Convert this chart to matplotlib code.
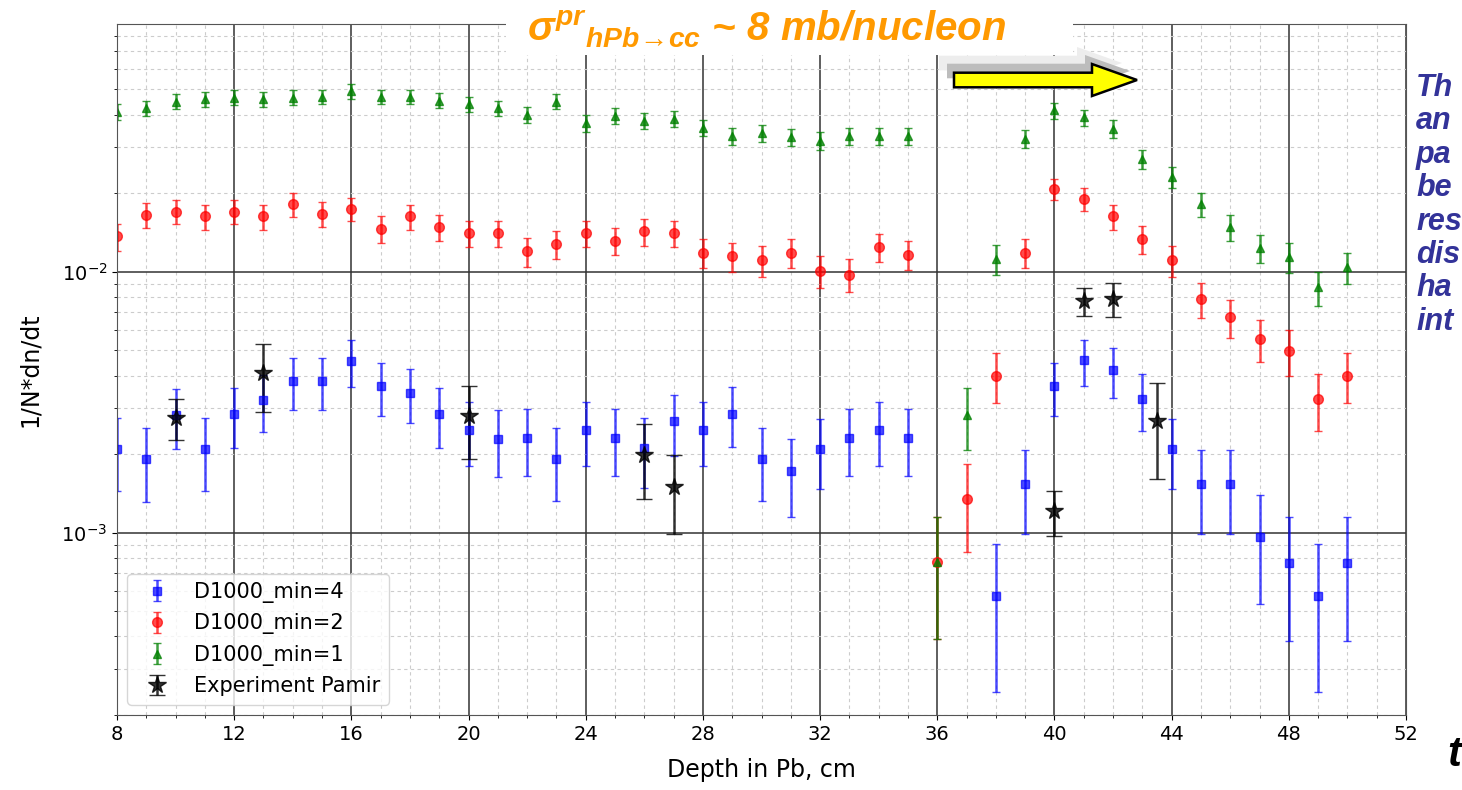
import matplotlib
matplotlib.use('Agg')
import matplotlib.pyplot as plt
import matplotlib.ticker as ticker
from matplotlib.patches import Rectangle, Polygon

plt.rcParams['mathtext.fontset'] = 'custom'
plt.rcParams['mathtext.it'] = 'Liberation Sans:italic:bold'
plt.rcParams['mathtext.rm'] = 'Liberation Sans:italic:bold'
plt.rcParams['mathtext.bf'] = 'Liberation Sans:italic:bold'

# D1000_min=4 (blue squares)
x_min4 = [8, 9, 10, 11, 12, 13, 14, 15, 16, 17, 18, 19, 20, 21, 22, 23, 24, 25,
          26, 27, 28, 29, 30, 31, 32, 33, 34, 35,
          38, 39, 40, 41, 42, 43, 44, 45, 46, 47, 48, 49, 50]
y_min4 = [0.0021, 0.00191, 0.00283, 0.0021, 0.00285, 0.00323, 0.0038, 0.0038,
          0.00456, 0.00364, 0.00343, 0.00285, 0.00248, 0.00229, 0.00231, 0.00192,
          0.00248, 0.00231, 0.00211, 0.00267, 0.00248, 0.00286, 0.00192, 0.00172,
          0.0021, 0.00231, 0.00248, 0.00231,
          0.000574, 0.00153, 0.00364, 0.00457, 0.00419, 0.00325, 0.0021, 0.00153,
          0.00153, 0.000962, 0.000765, 0.000574, 0.000765]
e_min4 = [0.00065, 0.0006, 0.00073, 0.00065, 0.00074, 0.00079, 0.00085, 0.00085,
          0.00093, 0.00083, 0.00081, 0.00074, 0.00068, 0.00066, 0.00066, 0.0006,
          0.00068, 0.00066, 0.00063, 0.00071, 0.00068, 0.00074, 0.0006, 0.00057,
          0.00063, 0.00066, 0.00068, 0.00066,
          0.00033, 0.00054, 0.00083, 0.00092, 0.0009, 0.00079, 0.00063, 0.00054,
          0.00054, 0.00043, 0.00038, 0.00033, 0.00038]

# D1000_min=2 (red circles)
x_min2 = list(range(8, 51))
y_min2 = [0.01365, 0.01653, 0.0170, 0.01629, 0.0170, 0.01629, 0.01817, 0.01668,
          0.01743, 0.01462, 0.01629, 0.01478, 0.01407, 0.01407, 0.01196, 0.01277,
          0.01407, 0.01315, 0.01427, 0.01407, 0.0118, 0.01144, 0.01105, 0.0118,
          0.01009, 0.00974, 0.0124, 0.01162, 0.00077, 0.00134, 0.0040, 0.0118,
          0.02075, 0.0190, 0.01629, 0.01334, 0.01105, 0.00786, 0.00668, 0.00552,
          0.00498, 0.00325, 0.0040]
e_min2 = [0.0016, 0.0018, 0.0018, 0.0018, 0.0018, 0.0018, 0.0019, 0.0018,
          0.0018, 0.0017, 0.0018, 0.0017, 0.0016, 0.0016, 0.0015, 0.0016,
          0.0016, 0.0016, 0.0017, 0.0016, 0.0015, 0.0015, 0.0015, 0.0015,
          0.0014, 0.0014, 0.0015, 0.0015, 0.00038, 0.0005, 0.00087, 0.0015,
          0.002, 0.0019, 0.0018, 0.0016, 0.0015, 0.0012, 0.0011, 0.001,
          0.001, 0.00079, 0.00087]

# D1000_min=1 (green triangles)
x_min1 = list(range(8, 51))
y_min1 = [0.0411, 0.0424, 0.0449, 0.0459, 0.0465, 0.0459, 0.0465, 0.0469,
          0.0491, 0.0469, 0.0469, 0.0453, 0.0439, 0.0424, 0.0400, 0.0449,
          0.0371, 0.0396, 0.0379, 0.0385, 0.0357, 0.0332, 0.0340, 0.0327,
          0.0318, 0.0332, 0.0332, 0.0332, 0.00077, 0.00283, 0.0112, 0.0323,
          0.0415, 0.0390, 0.0353, 0.0271, 0.0231, 0.0181, 0.0148, 0.0123,
          0.0114, 0.0087, 0.0104]
e_min1 = [0.0028, 0.0029, 0.0029, 0.003, 0.003, 0.003, 0.003, 0.003,
          0.0031, 0.003, 0.003, 0.0029, 0.0029, 0.0029, 0.0028, 0.0029,
          0.0027, 0.0028, 0.0027, 0.0027, 0.0026, 0.0025, 0.0026, 0.0025,
          0.0025, 0.0025, 0.0025, 0.0025, 0.00038, 0.00075, 0.0015, 0.0026,
          0.0029, 0.0028, 0.0027, 0.0023, 0.0021, 0.0019, 0.0017, 0.0015,
          0.0015, 0.0013, 0.0014]

# Experiment Pamir (black stars)
x_pamir = [10, 13, 20, 26, 27, 40, 41, 42, 43.5]
y_pamir = [0.00275, 0.00409, 0.00279, 0.00198, 0.00149, 0.00121, 0.00769, 0.00788, 0.00267]
e_pamir = [0.00049, 0.0012, 0.00087, 0.00063, 0.0005, 0.00024, 0.00095, 0.0012, 0.00107]

side_lines = ['Th', 'an', 'pa', 'be', 'res', 'dis', 'ha', 'int']

W, H = 1462, 790


def fx(px):
    return px / W


def fy(py):
    return 1 - py / H


fig = plt.figure(figsize=(14.62, 7.9), dpi=100)
ax = fig.add_axes([fx(117), fy(715), fx(1406) - fx(117), fy(24) - fy(715)])

ax.errorbar(x_min4, y_min4, yerr=e_min4, fmt='s', color='blue', alpha=0.7,
            ms=6, capsize=3, elinewidth=1.8, label='D1000_min=4')
ax.errorbar(x_min2, y_min2, yerr=e_min2, fmt='o', color='red', alpha=0.7,
            ms=7, capsize=3, elinewidth=1.8, label='D1000_min=2')
ax.errorbar(x_min1, y_min1, yerr=e_min1, fmt='^', color='green', alpha=0.75,
            ms=6, capsize=3, elinewidth=1.8, label='D1000_min=1')
ax.errorbar(x_pamir, y_pamir, yerr=e_pamir, fmt='*', color='black', alpha=0.8,
            ms=13, capsize=6, elinewidth=1.8, label='Experiment Pamir')

ax.set_yscale('log')
ax.set_xlim(8, 52)
ax.set_ylim(2.0e-4, 0.089)
ax.xaxis.set_major_locator(ticker.MultipleLocator(4))
ax.xaxis.set_minor_locator(ticker.MultipleLocator(1))
ax.yaxis.set_minor_formatter(ticker.NullFormatter())
ax.grid(which='major', color='#333333', linestyle='-', linewidth=1.1)
ax.grid(which='minor', color='#cccccc', linestyle=(0, (3, 3)), linewidth=0.8)
ax.set_axisbelow(True)
ax.tick_params(labelsize=14)
for s in ax.spines.values():
    s.set_color('#555555')

ax.set_xlabel('Depth in Pb, cm', fontsize=17, labelpad=10)
ax.set_ylabel('1/N*dn/dt', fontsize=17, labelpad=14)
ax.legend(loc='lower left', fontsize=15)

# slide decorations
fig.add_artist(Rectangle((fx(506), fy(55)), fx(1073) - fx(506), fy(0) - fy(55),
                         transform=fig.transFigure, facecolor='white',
                         edgecolor='none', zorder=5))
fig.text(fx(527), fy(41),
         r'$\sigma^{pr}{}_{hPb\!{\rightarrow}\!cc}$ ~ 8 mb/nucleon',
         color='#ff9900', fontsize=29, fontweight='bold', fontstyle='italic',
         family='Liberation Sans', va='baseline', zorder=6)

arrow = [(954, 72.7), (1092, 72.7), (1092, 64), (1137, 80), (1092, 96),
         (1092, 87.3), (954, 87.3)]
for dx, dy, c in [(-15, -17, '#ededed'), (-7, -9, '#bdbdbd')]:
    fig.add_artist(Polygon([(fx(px + dx), fy(py + dy)) for px, py in arrow],
                           closed=True, transform=fig.transFigure,
                           facecolor=c, edgecolor='none', zorder=6))
fig.add_artist(Polygon([(fx(px), fy(py)) for px, py in arrow], closed=True,
                       transform=fig.transFigure, facecolor='#ffff00',
                       edgecolor='black', linewidth=1.8, zorder=7))

for i, t in enumerate(side_lines):
    fig.text(fx(1416), fy(88 + i * 33.4), t, color='#333399', fontsize=22,
             fontweight='bold', fontstyle='italic', family='Liberation Sans',
             va='center', ha='left')
fig.text(fx(1447), fy(755), 't', color='black', fontsize=30, fontweight='bold',
         fontstyle='italic', family='Liberation Sans', va='center', ha='left')

fig.savefig('out.png', dpi=100)
